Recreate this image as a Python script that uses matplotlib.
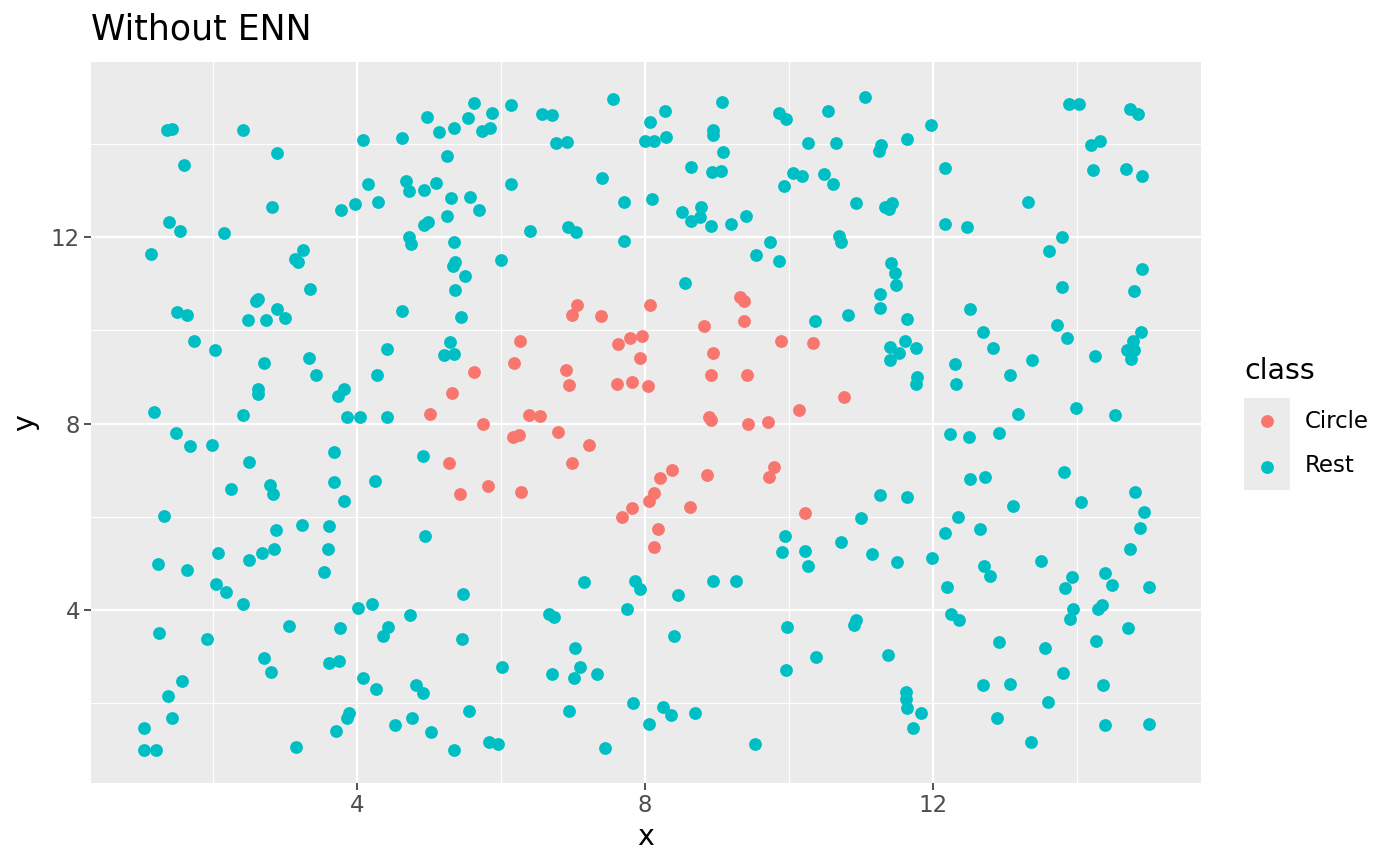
import numpy as np
import matplotlib
matplotlib.use("Agg")
import matplotlib.pyplot as plt

# Circle class points
circle_x = [5.32, 5.01, 5.28, 5.43, 7.06, 6.99, 7.39, 8.07, 9.32, 9.38, 9.38, 8.82,
            6.26, 7.63, 7.79, 7.96, 7.93, 8.94, 9.89, 10.33, 5.63, 6.18, 6.90, 6.94,
            7.61, 7.82, 8.04, 8.92, 9.42, 6.39, 6.54, 5.75, 8.89, 8.92, 9.43, 9.71,
            10.14, 6.17, 6.25, 6.79, 7.22, 6.99, 5.82, 6.28, 8.38, 8.21, 8.86, 9.79,
            9.72, 8.13, 8.06, 7.82, 7.68, 8.63, 10.22, 8.18, 8.13, 10.76]
circle_y = [8.66, 8.21, 7.16, 6.49, 10.55, 10.33, 10.31, 10.55, 10.72, 10.63, 10.20, 10.10,
            9.77, 9.71, 9.84, 9.88, 9.41, 9.52, 9.77, 9.73, 9.11, 9.30, 9.15, 8.83,
            8.85, 8.89, 8.81, 9.05, 9.05, 8.19, 8.17, 7.99, 8.14, 8.08, 7.99, 8.04,
            8.29, 7.71, 7.76, 7.82, 7.54, 7.16, 6.66, 6.53, 7.01, 6.83, 6.90, 7.07,
            6.86, 6.51, 6.34, 6.19, 6.00, 6.21, 6.08, 5.74, 5.35, 8.57]

# Rest class points
rest_x = [
    1.36, 1.43, 2.42, 4.97, 5.14, 5.35, 4.08, 4.63, 2.89, 1.60, 5.25, 4.15, 4.68, 4.72,
    4.93, 5.10, 5.31, 4.29, 3.97, 3.78, 2.82, 1.39, 1.54, 2.15, 5.25, 4.93, 4.99, 4.72,
    4.75, 5.35, 1.14, 3.25, 3.14, 3.18, 5.36, 5.33, 5.50, 3.35, 5.36, 2.60, 2.63, 2.89,
    1.50, 1.64, 2.49, 2.74, 3.00, 4.63, 5.44, 1.74, 2.03, 4.42, 5.29, 5.21, 5.35, 2.71,
    3.33, 3.44, 4.28, 2.63, 2.63, 3.82, 3.74, 1.19, 2.42, 3.86, 4.04, 4.42,
    1.49, 1.69, 1.99, 2.50, 3.69, 4.92, 2.26, 2.79, 2.83, 3.68, 4.25, 3.82, 1.32, 2.88,
    3.24, 3.61, 4.94, 2.07, 2.69, 2.85, 2.51, 3.60, 1.24, 1.64, 3.54, 2.04, 2.19, 2.42,
    5.47, 4.01, 4.21, 4.74, 1.26, 1.92, 3.06, 3.76, 4.43, 4.36, 5.46, 2.71, 2.81, 3.61,
    3.75, 1.57, 1.38, 4.08, 4.26, 4.82, 4.92, 1.44, 1.04, 1.04, 1.21, 3.15, 3.71, 3.89,
    3.86, 4.53, 4.76, 5.03, 5.35,
    5.63, 5.54, 5.88, 5.74, 5.85, 6.14, 6.57, 6.71, 7.56, 6.76, 6.92, 8.07, 8.28, 9.07,
    8.00, 8.13, 8.29, 8.94, 8.94, 9.86, 9.96, 10.54, 9.08, 10.26, 8.64, 8.93, 9.06, 10.06,
    10.18, 10.49, 10.61, 9.93, 6.14, 7.40, 5.57, 5.69, 7.71, 8.10, 8.51, 8.78, 8.64, 8.76,
    8.92, 9.19, 9.40, 6.40, 6.93, 7.04, 7.71, 9.74, 9.54, 9.86, 6.00, 8.56, 10.36,
    9.94, 9.90, 10.22, 10.26, 7.15, 7.86, 7.93, 8.46, 8.94, 9.26, 7.75, 6.67, 6.74, 9.97,
    8.40, 7.03, 10.38, 6.01, 6.71, 7.10, 7.01, 7.33, 9.96, 5.56, 6.94, 7.83, 8.25, 8.36,
    8.69, 8.06, 5.83, 5.96, 7.44, 9.53,
    11.06, 10.65, 11.28, 11.25, 11.64, 11.97, 13.89, 14.03, 14.74, 14.85, 14.19, 14.32,
    12.17, 14.22, 14.68, 14.90, 10.93, 11.33, 11.43, 11.39, 13.32, 12.17, 12.47, 10.69,
    10.72, 13.79, 13.61, 11.42, 11.47, 14.90, 11.49, 11.26, 13.79, 14.79, 11.26, 10.82,
    11.64, 12.51, 13.72, 12.69, 14.89, 13.86, 11.40, 11.61, 11.76, 11.53, 11.40, 12.83,
    14.78, 14.69, 14.79, 14.75, 14.25, 12.31, 13.38, 13.07, 11.78, 11.76, 12.32, 13.18,
    13.99, 14.53,
    12.24, 12.50, 12.92, 13.82, 12.51, 12.72, 11.26, 11.64, 13.11, 14.06, 14.81, 11.00,
    12.35, 14.93, 12.17, 12.65, 14.88, 10.72, 11.15, 11.50, 11.99, 13.50, 14.74, 12.71,
    12.79, 13.93, 13.83, 14.39, 14.49, 15.00, 12.19, 13.94, 13.90, 14.35, 14.29, 12.25,
    12.36, 10.93, 10.90, 14.71, 12.92, 13.56, 14.26, 11.38, 13.81, 12.69, 13.07, 14.36,
    13.60, 11.63, 11.63, 11.64, 11.83, 11.72, 12.89, 14.39, 15.00, 13.36]
rest_y = [
    14.30, 14.32, 14.30, 14.58, 14.26, 14.35, 14.09, 14.13, 13.81, 13.55, 13.74, 13.14, 13.21, 12.99,
    13.02, 13.17, 12.84, 12.76, 12.71, 12.59, 12.65, 12.33, 12.14, 12.09, 12.46, 12.26, 12.33, 12.01,
    11.86, 11.90, 11.64, 11.73, 11.53, 11.47, 11.47, 11.38, 11.17, 10.89, 10.87, 10.63, 10.68, 10.46,
    10.40, 10.33, 10.23, 10.23, 10.27, 10.42, 10.29, 9.77, 9.58, 9.60, 9.75, 9.47, 9.50, 9.30,
    9.41, 9.05, 9.05, 8.74, 8.64, 8.74, 8.59, 8.25, 8.19, 8.14, 8.14, 8.14,
    7.80, 7.52, 7.54, 7.18, 7.39, 7.31, 6.60, 6.68, 6.49, 6.75, 6.77, 6.34, 6.02, 5.72,
    5.83, 5.80, 5.59, 5.23, 5.23, 5.31, 5.08, 5.31, 4.99, 4.86, 4.82, 4.56, 4.39, 4.13,
    4.35, 4.05, 4.13, 3.89, 3.51, 3.38, 3.66, 3.62, 3.64, 3.44, 3.38, 2.97, 2.67, 2.86,
    2.91, 2.48, 2.16, 2.54, 2.31, 2.39, 2.22, 1.68, 1.47, 1.00, 1.00, 1.06, 1.41, 1.79,
    1.68, 1.53, 1.68, 1.38, 1.00,
    14.88, 14.56, 14.67, 14.28, 14.35, 14.84, 14.65, 14.62, 14.97, 14.02, 14.04, 14.47, 14.71, 14.90,
    14.07, 14.07, 14.15, 14.30, 14.20, 14.67, 14.54, 14.71, 13.83, 14.02, 13.51, 13.40, 13.42, 13.38,
    13.32, 13.36, 13.14, 13.10, 13.14, 13.27, 12.86, 12.59, 12.76, 12.82, 12.54, 12.65, 12.35, 12.44,
    12.24, 12.29, 12.46, 12.14, 12.22, 12.11, 11.92, 11.90, 11.62, 11.49, 11.51, 11.02, 10.20,
    5.59, 5.25, 5.27, 4.95, 4.60, 4.62, 4.45, 4.32, 4.62, 4.62, 4.02, 3.92, 3.85, 3.64,
    3.44, 3.19, 2.99, 2.78, 2.63, 2.78, 2.54, 2.63, 2.71, 1.83, 1.83, 2.01, 1.92, 1.75,
    1.79, 1.56, 1.17, 1.13, 1.04, 1.13,
    15.01, 14.02, 13.98, 13.85, 14.11, 14.41, 14.86, 14.86, 14.75, 14.65, 13.98, 14.07,
    13.49, 13.44, 13.47, 13.32, 12.74, 12.65, 12.74, 12.61, 12.76, 12.29, 12.22, 12.03,
    11.90, 12.01, 11.71, 11.45, 11.23, 11.32, 10.98, 10.78, 10.93, 10.85, 10.48, 10.33,
    10.25, 10.46, 10.12, 9.97, 9.97, 9.84, 9.65, 9.77, 9.62, 9.52, 9.37, 9.62,
    9.77, 9.58, 9.58, 9.39, 9.45, 9.28, 9.37, 9.05, 9.00, 8.85, 8.85, 8.21,
    8.34, 8.19,
    7.78, 7.71, 7.80, 6.96, 6.81, 6.86, 6.47, 6.43, 6.23, 6.32, 6.53, 5.98,
    6.00, 6.11, 5.65, 5.74, 5.76, 5.46, 5.20, 5.03, 5.12, 5.05, 5.31, 4.95,
    4.73, 4.71, 4.47, 4.80, 4.54, 4.50, 4.50, 4.02, 3.81, 4.11, 4.02, 3.92,
    3.79, 3.79, 3.68, 3.62, 3.32, 3.19, 3.34, 3.04, 2.65, 2.39, 2.41, 2.39,
    2.03, 2.24, 2.09, 1.90, 1.79, 1.47, 1.68, 1.53, 1.56, 1.17]

classes = ["Circle", "Rest"]
class_colors = {"Circle": "#F8766D", "Rest": "#00BFC4"}

ticks = [4, 8, 12]
minor_ticks = [2, 6, 10, 14]
x_limits = (0.31, 15.72)
y_limits = (0.29, 15.76)

fig = plt.figure(figsize=(14, 8.66), dpi=100)
ax = fig.add_axes([91 / 1400, 1 - 783 / 866, 1110 / 1400, 721 / 866])
ax.set_facecolor("#EBEBEB")
ax.set_axisbelow(True)

ax.scatter(rest_x, rest_y, s=85, color=class_colors["Rest"], linewidths=0, zorder=3)
ax.scatter(circle_x, circle_y, s=85, color=class_colors["Circle"], linewidths=0, zorder=3)

ax.set_xlim(*x_limits)
ax.set_ylim(*y_limits)

ax.set_xticks(ticks)
ax.set_yticks(ticks)
ax.set_xticks(minor_ticks, minor=True)
ax.set_yticks(minor_ticks, minor=True)
ax.grid(which="major", color="white", linewidth=1.6)
ax.grid(which="minor", color="white", linewidth=0.8)
ax.tick_params(which="major", length=5, width=1.2, color="#333333",
               labelsize=16.5, labelcolor="#4D4D4D", pad=3)
ax.tick_params(which="minor", length=0)
for sp in ax.spines.values():
    sp.set_visible(False)

ax.set_xlabel("x", fontsize=20.5, labelpad=4)
ax.set_ylabel("y", fontsize=20.5, labelpad=8)
fig.text(91 / 1400, 1 - 30 / 866, "Without ENN", fontsize=25, va="center", ha="left")

# legend
key_ax = fig.add_axes([1244 / 1400, 1 - 490 / 866, 46 / 1400, 92 / 866])
key_ax.set_facecolor("#EBEBEB")
key_ax.set_xlim(0, 1)
key_ax.set_ylim(0, 2)
key_ax.set_xticks([])
key_ax.set_yticks([])
for sp in key_ax.spines.values():
    sp.set_visible(False)
for i, c in enumerate(classes):
    key_ax.scatter([0.5], [1.5 - i], s=85, color=class_colors[c], linewidths=0)
    fig.text(1305 / 1400, 1 - (421 + 45 * i) / 866, c, fontsize=16.5,
             va="center", ha="left")
fig.text(1244 / 1400, 1 - 371 / 866, "class", fontsize=20.5, va="center", ha="left")

fig.savefig("out.png", dpi=100)
